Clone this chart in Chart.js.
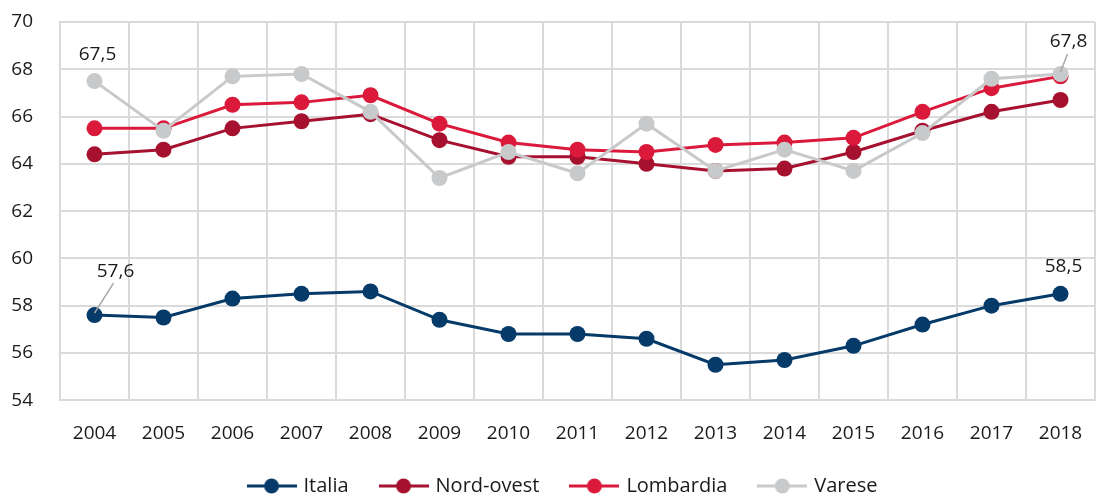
<!DOCTYPE html>
<html>
<head>
<meta charset="utf-8">
<script src="https://cdn.jsdelivr.net/npm/chart.js@4.4.1/dist/chart.umd.min.js"></script>
<style>
  html, body { margin: 0; padding: 0; background: #ffffff; overflow: hidden; }
  canvas { display: block; }
</style>
</head>
<body>
<canvas id="c" width="1097" height="495" style="width:1097px;height:495px"></canvas>
<script>
const years = ['2004','2005','2006','2007','2008','2009','2010','2011','2012','2013','2014','2015','2016','2017','2018'];
const italia    = [57.6, 57.5, 58.3, 58.5, 58.6, 57.4, 56.8, 56.8, 56.6, 55.5, 55.7, 56.3, 57.2, 58.0, 58.5];
const nordOvest = [64.4, 64.6, 65.5, 65.8, 66.1, 65.0, 64.3, 64.3, 64.0, 63.7, 63.8, 64.5, 65.4, 66.2, 66.7];
const lombardia = [65.5, 65.5, 66.5, 66.6, 66.9, 65.7, 64.9, 64.6, 64.5, 64.8, 64.9, 65.1, 66.2, 67.2, 67.7];
const varese    = [67.5, 65.4, 67.7, 67.8, 66.2, 63.4, 64.5, 63.6, 65.7, 63.7, 64.6, 63.7, 65.3, 67.6, 67.8];
const yTicks    = [54, 56, 58, 60, 62, 64, 66, 68, 70];

const FONT = "'Open Sans', sans-serif";
const colors = { italia: '#053A69', nord: '#A6112F', lomb: '#DB1A3B', varese: '#C8C9CB' };

// value labels shown on the chart (dataset index, point index, text, offset)
const callouts = [
  { ds: 3, i: 0,  text: '67,5', dx: 3,  dy: -27, leader: false },
  { ds: 3, i: 14, text: '67,8', dx: 8,  dy: -32, leader: true },
  { ds: 0, i: 0,  text: '57,6', dx: 21, dy: -44, leader: true },
  { ds: 0, i: 14, text: '58,5', dx: 3,  dy: -27, leader: false }
];

function legendIcon(color) {
  const cv = document.createElement('canvas');
  cv.width = 50; cv.height = 18;
  const g = cv.getContext('2d');
  g.strokeStyle = color; g.lineWidth = 3;
  g.beginPath(); g.moveTo(0, 9); g.lineTo(50, 9); g.stroke();
  g.fillStyle = color;
  g.beginPath(); g.arc(25, 9, 7.5, 0, Math.PI * 2); g.fill();
  return cv;
}

const calloutPlugin = {
  id: 'callouts',
  afterLayout(chart) {
    // legend in the reference sits slightly right of the canvas centre
    if (chart.legend) { chart.legend.left += 16; chart.legend.right += 16; }
  },
  afterDatasetsDraw(chart) {
    const ctx = chart.ctx;
    ctx.save();
    ctx.font = "19px " + FONT;
    ctx.textAlign = 'center';
    ctx.textBaseline = 'middle';
    callouts.forEach(c => {
      const pt = chart.getDatasetMeta(c.ds).data[c.i];
      const tx = pt.x + c.dx, ty = pt.y + c.dy;
      if (c.leader) {
        ctx.strokeStyle = '#A6A6A6';
        ctx.lineWidth = 1.5;
        ctx.beginPath();
        const lx = tx - (c.dx > 10 ? 2 : 1), ly = ty + 12;
        ctx.moveTo(lx, ly);
        ctx.lineTo(pt.x + 0, pt.y - 2);
        ctx.stroke();
      }
      ctx.fillStyle = '#1a1a1a';
      ctx.fillText(c.text, tx, ty);
    });
    ctx.restore();
  }
};

function ds(label, data, color, order) {
  return {
    label, data,
    borderColor: color, backgroundColor: color,
    pointBackgroundColor: color, pointBorderColor: color,
    borderWidth: 3, pointRadius: 8, pointHoverRadius: 8, pointBorderWidth: 0,
    tension: 0, order,
    legendIcon: legendIcon(color)
  };
}

new Chart(document.getElementById('c'), {
  type: 'line',
  data: {
    labels: years,
    datasets: [
      ds('Italia', italia, colors.italia, 4),
      ds('Nord-ovest', nordOvest, colors.nord, 3),
      ds('Lombardia', lombardia, colors.lomb, 2),
      ds('Varese', varese, colors.varese, 1)
    ]
  },
  options: {
    responsive: false,
    animation: false,
    devicePixelRatio: 1,
    layout: { autoPadding: false, padding: { top: 22, right: 2, left: 0, bottom: -11 } },
    plugins: {
      tooltip: { enabled: false },
      legend: {
        position: 'bottom',
        labels: {
          font: { family: FONT, size: 20 },
          color: '#1a1a1a',
          usePointStyle: true,
          pointStyleWidth: 44,
          boxHeight: 18,
          padding: 33,
          sort: (a, b) => a.datasetIndex - b.datasetIndex,
          generateLabels(chart) {
            const items = Chart.defaults.plugins.legend.labels.generateLabels(chart);
            items.forEach(it => { it.pointStyle = chart.data.datasets[it.datasetIndex].legendIcon; });
            return items;
          }
        }
      }
    },
    scales: {
      x: {
        offset: true,
        afterFit(axis) { axis.height -= 24; axis.paddingLeft = 0; axis.paddingRight = 0; },
        grid: { offset: true, color: '#DADADA', lineWidth: 2, drawTicks: false },
        border: { color: '#DADADA', width: 2 },
        ticks: { font: { family: FONT, size: 19 }, color: '#1a1a1a', padding: 22 }
      },
      y: {
        min: 54, max: 70,
        afterBuildTicks(axis) { axis.ticks = yTicks.map(v => ({ value: v })); },
        afterFit(axis) { axis.width = 60; axis.paddingTop = 0; axis.paddingBottom = 0; },
        grid: { color: '#DADADA', lineWidth: 2, drawTicks: false },
        border: { color: '#DADADA', width: 2 },
        ticks: { font: { family: FONT, size: 19 }, color: '#1a1a1a', padding: 27 }
      }
    }
  },
  plugins: [calloutPlugin]
});
</script>
</body>
</html>
